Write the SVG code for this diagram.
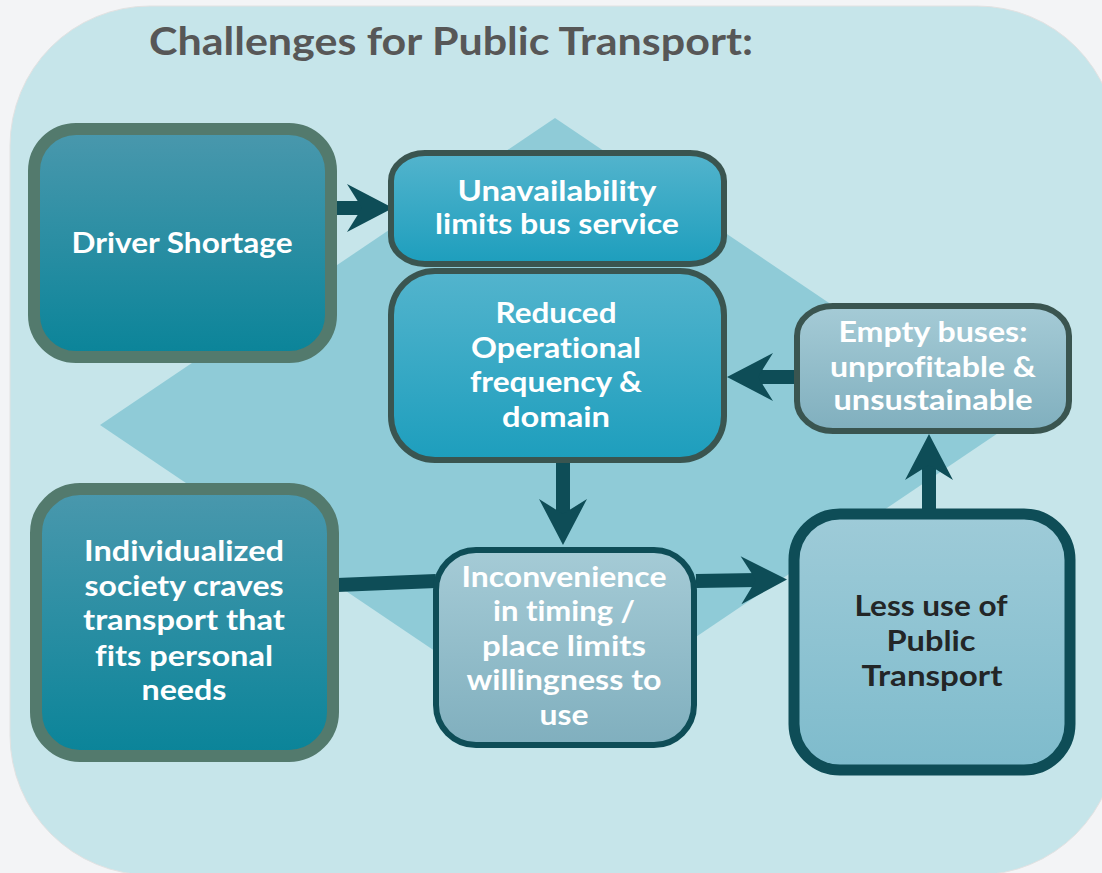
<svg xmlns="http://www.w3.org/2000/svg" width="1102" height="873" viewBox="0 0 1102 873">
<style>
.t{font-family:Lato,"Noto Sans","DejaVu Sans",sans-serif;font-weight:700;font-size:29px;fill:#ffffff;text-anchor:middle;font-variant-ligatures:none}
.dk{fill:#232627}
.title{font-family:Lato,"Noto Sans","DejaVu Sans",sans-serif;font-weight:700;font-size:39px;fill:#575757;font-variant-ligatures:none}
.conn{stroke:#0e4d57;stroke-width:14;fill:none}
</style>
<defs>
<linearGradient id="g1" x1="0" y1="0" x2="0" y2="1"><stop offset="0" stop-color="#4a98ad"/><stop offset="1" stop-color="#0a8499"/></linearGradient>
<linearGradient id="g2" x1="0" y1="0" x2="0" y2="1"><stop offset="0" stop-color="#53b4cd"/><stop offset="1" stop-color="#1d9ebd"/></linearGradient>
<linearGradient id="g3" x1="0" y1="0" x2="0" y2="1"><stop offset="0" stop-color="#a5cbd6"/><stop offset="1" stop-color="#80afbe"/></linearGradient>
<linearGradient id="g4" x1="0" y1="0" x2="0" y2="1"><stop offset="0" stop-color="#9ecbd8"/><stop offset="1" stop-color="#7ebbcc"/></linearGradient>
<marker id="ah" markerUnits="userSpaceOnUse" orient="auto" refX="0" refY="0" markerWidth="60" markerHeight="60" overflow="visible">
<path d="M30,0 L-16,-24 L-1,0 L-16,24 Z" fill="#0e4d57"/>
</marker>
</defs>
<rect width="1102" height="873" fill="#f3f4f6"/>
<rect x="10" y="6" width="1107" height="869" rx="140" fill="#c6e5ea" stroke="#e2e2e2" stroke-width="1"/>
<polygon points="555,118 1010,425 555,732 100,425" fill="#8fcbd7"/>
<text class="title" x="149" y="55" textLength="604" lengthAdjust="spacingAndGlyphs">Challenges for Public Transport:</text>
<g id="connectors">
<line class="conn" x1="336" y1="208" x2="363" y2="208" marker-end="url(#ah)"/>
<line class="conn" x1="563" y1="462" x2="563" y2="515" marker-end="url(#ah)"/>
<line class="conn" x1="337" y1="585" x2="436" y2="581"/>
<line class="conn" x1="696" y1="581" x2="757" y2="580" marker-end="url(#ah)"/>
<line class="conn" x1="929" y1="510" x2="929" y2="464" marker-end="url(#ah)"/>
<line class="conn" x1="796" y1="377" x2="757" y2="377" marker-end="url(#ah)"/>
</g>
<g id="driver-shortage">
<rect x="34" y="129" width="297" height="228" rx="42" fill="url(#g1)" stroke="#537a6d" stroke-width="12"/>
<text class="t" x="182" y="253" textLength="221" lengthAdjust="spacingAndGlyphs">Driver Shortage</text>
</g>
<g id="individualized">
<rect x="36" y="489" width="297" height="267" rx="44" fill="url(#g1)" stroke="#537a6d" stroke-width="12"/>
<text class="t" x="184" y="561" textLength="200" lengthAdjust="spacingAndGlyphs">Individualized</text>
<text class="t" x="184" y="596" textLength="199" lengthAdjust="spacingAndGlyphs">society craves</text>
<text class="t" x="184" y="630" textLength="202" lengthAdjust="spacingAndGlyphs">transport that</text>
<text class="t" x="184" y="666" textLength="178" lengthAdjust="spacingAndGlyphs">fits personal</text>
<text class="t" x="184" y="700" textLength="85" lengthAdjust="spacingAndGlyphs">needs</text>
</g>
<g id="unavailability">
<rect x="391" y="153" width="333" height="111" rx="34" ry="28" fill="url(#g2)" stroke="#3a5550" stroke-width="6"/>
<text class="t" x="557" y="201" textLength="199" lengthAdjust="spacingAndGlyphs">Unavailability</text>
<text class="t" x="557" y="234" textLength="244" lengthAdjust="spacingAndGlyphs">limits bus service</text>
</g>
<g id="reduced">
<rect x="391" y="271" width="333" height="189" rx="44" fill="url(#g2)" stroke="#3a5550" stroke-width="6"/>
<text class="t" x="556" y="323" textLength="121" lengthAdjust="spacingAndGlyphs">Reduced</text>
<text class="t" x="556" y="358" textLength="170" lengthAdjust="spacingAndGlyphs">Operational</text>
<text class="t" x="556" y="392" textLength="172" lengthAdjust="spacingAndGlyphs">frequency &amp;</text>
<text class="t" x="556" y="427" textLength="108" lengthAdjust="spacingAndGlyphs">domain</text>
</g>
<g id="empty-buses">
<rect x="797" y="306" width="272" height="125" rx="36" ry="30" fill="url(#g3)" stroke="#3a5550" stroke-width="6"/>
<text class="t" x="933" y="342" textLength="189" lengthAdjust="spacingAndGlyphs">Empty buses:</text>
<text class="t" x="933" y="377" textLength="206" lengthAdjust="spacingAndGlyphs">unprofitable &amp;</text>
<text class="t" x="933" y="410" textLength="199" lengthAdjust="spacingAndGlyphs">unsustainable</text>
</g>
<g id="inconvenience">
<rect x="436" y="550" width="258" height="195" rx="40" fill="url(#g3)" stroke="#0e4d57" stroke-width="6"/>
<text class="t" x="564" y="587" textLength="205" lengthAdjust="spacingAndGlyphs">Inconvenience</text>
<text class="t" x="564" y="621" textLength="142" lengthAdjust="spacingAndGlyphs">in timing /</text>
<text class="t" x="564" y="656" textLength="164" lengthAdjust="spacingAndGlyphs">place limits</text>
<text class="t" x="564" y="690" textLength="195" lengthAdjust="spacingAndGlyphs">willingness to</text>
<text class="t" x="564" y="725" textLength="49" lengthAdjust="spacingAndGlyphs">use</text>
</g>
<g id="less-use">
<rect x="794" y="514" width="276" height="256" rx="46" fill="url(#g4)" stroke="#0e4d57" stroke-width="11"/>
<text class="t dk" x="931" y="616" textLength="153" lengthAdjust="spacingAndGlyphs">Less use of</text>
<text class="t dk" x="931" y="651" textLength="89" lengthAdjust="spacingAndGlyphs">Public</text>
<text class="t dk" x="932" y="686" textLength="141" lengthAdjust="spacingAndGlyphs">Transport</text>
</g>
</svg>
